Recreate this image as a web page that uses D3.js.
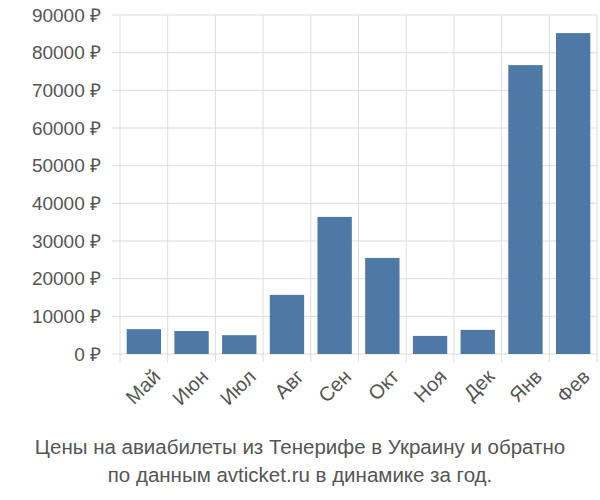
<!DOCTYPE html>
<html><head><meta charset="utf-8">
<script src="https://cdn.jsdelivr.net/npm/d3@7"></script>
<style>body{margin:0;background:#fff}text{font-family:"Liberation Sans",Arial,sans-serif}</style>
</head><body>
<script>
var months = ['Май','Июн','Июл','Авг','Сен','Окт','Ноя','Дек','Янв','Фев'];
var prices = [6600, 6100, 5000, 15700, 36400, 25500, 4800, 6400, 76700, 85200];
var yTicks = [0,10000,20000,30000,40000,50000,60000,70000,80000,90000];
var title = ['Цены на авиабилеты из Тенерифе в Украину и обратно','по данным avticket.ru в динамике за год.'];

var svg = d3.select('body').append('svg').attr('width',600).attr('height',500);
var pLeft = 120, pRight = 597, pTop = 15, pBottom = 354;
var x = d3.scaleBand().domain(months).range([pLeft,pRight]).paddingInner(0.28).paddingOuter(0.14);
var y = d3.scaleLinear().domain([0,90000]).range([pBottom,pTop]);

// grid
var step = (pRight-pLeft)/months.length;
svg.selectAll('.vg').data(d3.range(months.length+1)).enter().append('line')
	.attr('x1',function(i){return pLeft+i*step;}).attr('x2',function(i){return pLeft+i*step;})
	.attr('y1',pTop).attr('y2',pBottom+8).attr('stroke','#ddd');
svg.selectAll('.hg').data(yTicks).enter().append('line')
	.attr('x1',pLeft-8).attr('x2',pRight).attr('y1',function(d){return y(d);}).attr('y2',function(d){return y(d);})
	.attr('stroke','#ddd');

svg.selectAll('.bar').data(prices).enter().append('rect')
	.attr('x',function(d,i){return x(months[i]);}).attr('width',x.bandwidth())
	.attr('y',function(d){return y(d);}).attr('height',function(d){return pBottom-y(d);})
	.attr('fill','#4e79a7');

svg.selectAll('.yl').data(yTicks).enter().append('text')
	.attr('x',pLeft-19).attr('y',function(d){return y(d);}).attr('dy','0.35em')
	.attr('text-anchor','end').attr('font-size',19).attr('fill','#555')
	.text(function(d){return d+' ₽';});

svg.selectAll('.xl').data(months).enter().append('text')
	.attr('transform',function(d){return 'translate('+(x(d)+x.bandwidth()/2+8)+','+(pBottom+14)+') rotate(-45)';})
	.attr('text-anchor','end').attr('dy','0.7em').attr('font-size',20).attr('fill','#555')
	.text(function(d){return d;});

svg.selectAll('.t').data(title).enter().append('text')
	.attr('x',300).attr('y',function(d,i){return 454+i*28;}).attr('text-anchor','middle')
	.attr('font-size',20.5).attr('fill','#555').text(function(d){return d;});
</script>
</body></html>
